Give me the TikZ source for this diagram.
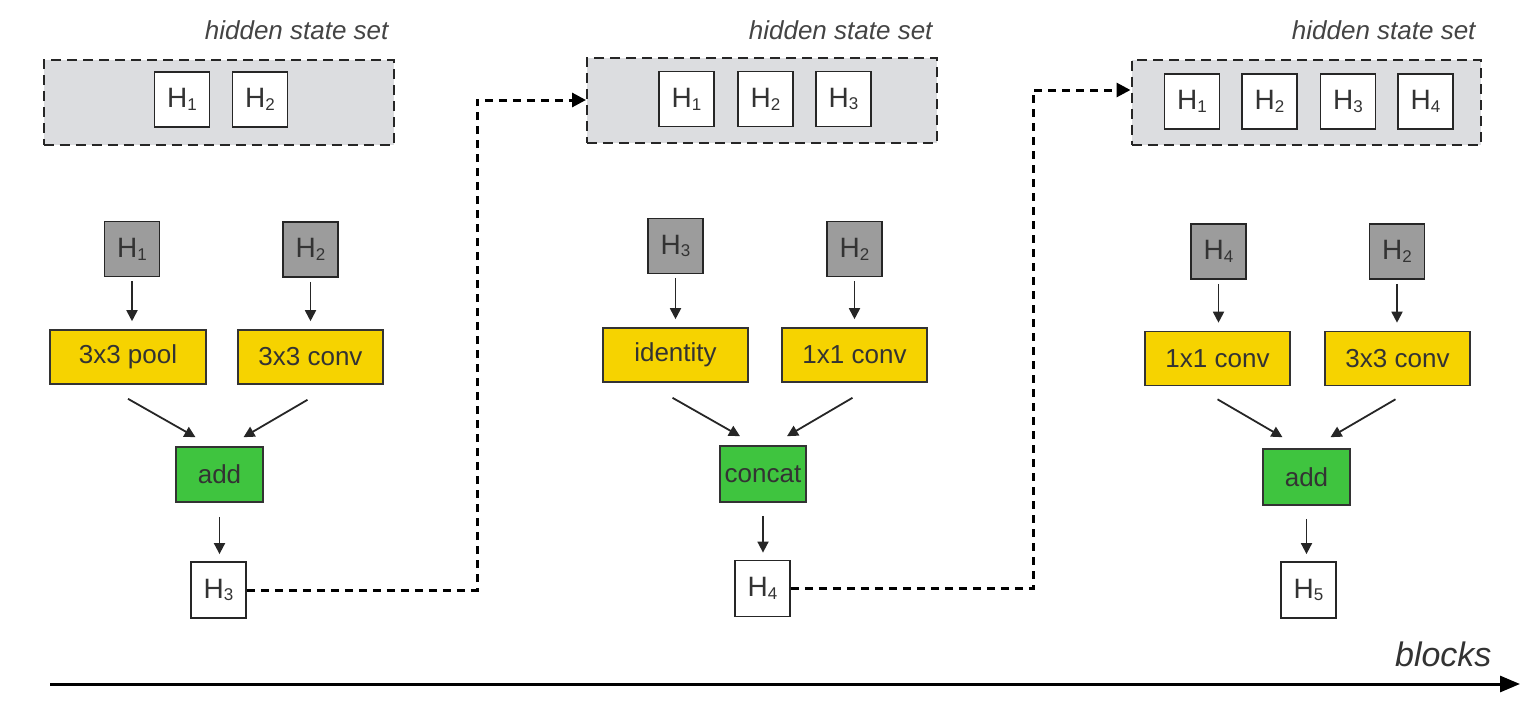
\documentclass[tikz,border=0pt]{standalone}
\usepackage{fontspec}
\setmainfont{Liberation Sans}
\usetikzlibrary{arrows.meta,calc}
\definecolor{opy}{HTML}{F6D300}
\definecolor{opg}{HTML}{3FC43F}
\definecolor{hgray}{HTML}{9C9C9C}
\definecolor{setgray}{HTML}{DCDDE0}
\definecolor{txt}{HTML}{333333}
\definecolor{lbl}{HTML}{444444}
\newcommand{\Hn}[1]{{\fontsize{28pt}{30pt}\selectfont H\raisebox{-0.1em}{\fontsize{17pt}{17pt}\selectfont #1}}}
\begin{document}
\begin{tikzpicture}[x=1pt,y=-1pt,
  every node/.style={font=\fontsize{26pt}{30pt}\selectfont, text=txt},
  setbox/.style={draw=black!85, fill=setgray, dash pattern=on 10pt off 6pt, line width=2pt, minimum width=350pt, minimum height=85pt, inner sep=0pt},
  hwhite/.style={draw=black!85, fill=white, line width=1.8pt, minimum width=55pt, minimum height=55pt, inner sep=0pt},
  hgrey/.style={hwhite, fill=hgray},
  opbox/.style={draw=black!80, fill=opy, line width=1.6pt, minimum width=145pt, minimum height=54pt, inner sep=0pt},
  addbox/.style={draw=black!80, fill=opg, line width=1.6pt, minimum width=87pt, minimum height=55pt, inner sep=0pt},
  setlabel/.style={anchor=east, text=lbl, font=\fontsize{26pt}{30pt}\selectfont\itshape},
  arr/.style={draw=black!85, line width=1.8pt, -{Triangle[length=11pt,width=11pt]}},
  dconn/.style={draw=black, line width=3pt, dash pattern=on 8pt off 6pt, -{Triangle[length=14pt,width=14pt]}},
]
\useasboundingbox (0,0) rectangle (1535,704);

% ---------- block 1 ----------
\node[setlabel] (l1) at (392,30) {hidden state set};
\node[setbox] (set1) at (218.5,102.5) {};
\node[hwhite] (s1a) at (182,99.5) {\Hn{1}};
\node[hwhite] (s1b) at (260,99.5) {\Hn{2}};
\node[hgrey] (g1a) at (132,249) {\Hn{1}};
\node[hgrey] (g1b) at (310.5,249.5) {\Hn{2}};
\node[opbox, minimum width=156pt] (o1a) at (128,357) {3x3 pool};
\node[opbox] (o1b) at (310.5,357) {3x3 conv};
\node[addbox] (a1) at (219.5,474.5) {add};
\node[hwhite, minimum height=56pt] (h3) at (218.5,590) {\Hn{3}};
\draw[arr, shorten <=4pt, shorten >=8pt] (g1a) -- (g1a |- o1a.north);
\draw[arr, shorten <=4pt, shorten >=8pt] (g1b) -- (g1b |- o1b.north);
\draw[arr] ($(o1a.south)+(0,14)$) -- ($(a1.north)+(-24,-9)$);
\draw[arr] ($(o1b.south)+(-3,15)$) -- ($(a1.north)+(24,-9)$);
\draw[arr, shorten <=14pt, shorten >=7pt] (a1) -- (a1 |- h3.north);

% ---------- block 2 ----------
\node[setlabel] (l2) at (936,30) {hidden state set};
\node[setbox] (set2) at (762,100.5) {};
\node[hwhite] (s2a) at (686.5,99) {\Hn{1}};
\node[hwhite] (s2b) at (765.5,99) {\Hn{2}};
\node[hwhite] (s2c) at (843.5,99) {\Hn{3}};
\node[hgrey] (g2a) at (675.5,246) {\Hn{3}};
\node[hgrey] (g2b) at (854.5,249) {\Hn{2}};
\node[opbox] (o2a) at (675.5,355) {identity};
\node[opbox] (o2b) at (854.5,355) {1x1 conv};
\node[addbox, minimum width=86pt, minimum height=56pt] (a2) at (763,474) {concat};
\node[hwhite, minimum height=56pt] (h4) at (762.5,588.5) {\Hn{4}};
\draw[arr, shorten <=4pt, shorten >=8pt] (g2a) -- (g2a |- o2a.north);
\draw[arr, shorten <=4pt, shorten >=8pt] (g2b) -- (g2b |- o2b.north);
\draw[arr] ($(o2a.south)+(-3,15)$) -- ($(a2.north)+(-23,-9)$);
\draw[arr] ($(o2b.south)+(-2,15)$) -- ($(a2.north)+(24,-9)$);
\draw[arr, shorten <=13pt, shorten >=7pt] (a2) -- (a2 |- h4.north);

% ---------- block 3 ----------
\node[setlabel] (l3) at (1479,30) {hidden state set};
\node[setbox, minimum width=349pt] (set3) at (1306,102) {};
\node[hwhite] (s3a) at (1192,101.5) {\Hn{1}};
\node[hwhite] (s3b) at (1269.5,101.5) {\Hn{2}};
\node[hwhite] (s3c) at (1348,101.5) {\Hn{3}};
\node[hwhite] (s3d) at (1425.5,101.5) {\Hn{4}};
\node[hgrey] (g3a) at (1218.5,251.5) {\Hn{4}};
\node[hgrey] (g3b) at (1397,251.5) {\Hn{2}};
\node[opbox] (o3a) at (1217.5,358.5) {1x1 conv};
\node[opbox] (o3b) at (1397.5,358.5) {3x3 conv};
\node[addbox, minimum height=56pt] (a3) at (1306.5,477) {add};
\node[hwhite, minimum height=56pt] (h5) at (1308.5,590) {\Hn{5}};
\draw[arr, shorten <=4pt, shorten >=8pt] (g3a) -- (g3a |- o3a.north);
\draw[arr, shorten <=4pt, shorten >=8pt] (g3b) -- (g3b |- o3b.north);
\draw[arr] ($(o3a.south)+(0,13)$) -- ($(a3.north)+(-24,-11)$);
\draw[arr] ($(o3b.south)+(-2,13)$) -- ($(a3.north)+(24,-11)$);
\draw[arr, shorten <=13pt, shorten >=7pt] (a3) -- (a3 |- h5.north);

% ---------- dashed links ----------
\coordinate (k1) at (477,100);
\coordinate (k2) at (1033,90);
\draw[dconn] (h3.east) -| (k1) -- (set2.west |- k1);
\draw[dconn] (h4.east) -| (k2) -- (set3.west |- k2);

% ---------- blocks axis ----------
\coordinate (ax0) at (50,684);
\coordinate (ax1) at (1520,684);
\draw[line width=3pt, -{Triangle[length=20pt,width=16pt]}] (ax0) -- (ax1);
\node[anchor=east, text=txt, font=\fontsize{34pt}{38pt}\selectfont\itshape] (bl) at (1495,654) {blocks};
\end{tikzpicture}
\end{document}
